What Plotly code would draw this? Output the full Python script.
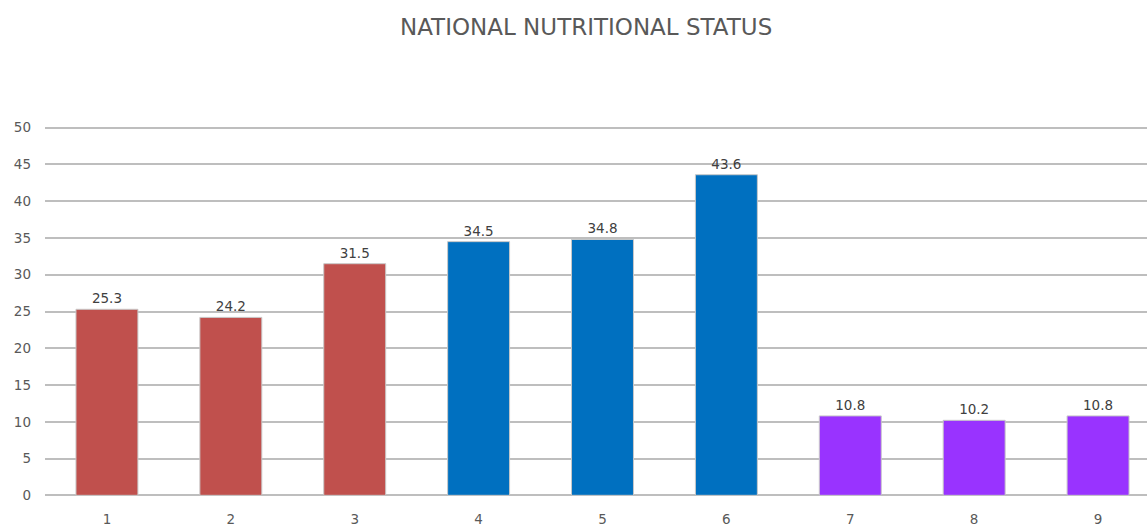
import plotly.graph_objects as go

categories = [1, 2, 3, 4, 5, 6, 7, 8, 9]
values = [25.3, 24.2, 31.5, 34.5, 34.8, 43.6, 10.8, 10.2, 10.8]
bar_colors = ["#C0504D", "#C0504D", "#C0504D",
              "#0070C0", "#0070C0", "#0070C0",
              "#9933FF", "#9933FF", "#9933FF"]
y_ticks = [0, 5, 10, 15, 20, 25, 30, 35, 40, 45, 50]
title = "NATIONAL NUTRITIONAL STATUS"

FONT = "DejaVu Sans, Verdana, sans-serif"

fig = go.Figure(go.Bar(
    x=categories,
    y=values,
    marker=dict(color=bar_colors, line=dict(color="#C8C8C8", width=1)),
    text=[f"{v:.1f}" for v in values],
    textposition="outside",
    cliponaxis=False,
    textfont=dict(family=FONT, size=13.5, color="#404040"),
))

fig.update_layout(
    width=1147, height=527,
    margin=dict(l=45, r=0, t=124, b=28),
    paper_bgcolor="white", plot_bgcolor="white",
    bargap=0.5,
    showlegend=False,
    title=dict(text=title, x=0.511, xanchor="center", y=0.949, yanchor="middle",
               font=dict(family=FONT, size=23, color="#595959")),
    font=dict(family=FONT, size=13.5, color="#595959"),
)
fig.update_xaxes(
    range=[0.5, 9.395], tickvals=categories, ticktext=[str(c) for c in categories],
    showgrid=False, zeroline=False, showline=False, ticks="",
    ticklabelstandoff=10, tickfont=dict(family=FONT, size=13.5, color="#595959"),
)
fig.update_yaxes(
    range=[-0.5, 50.5], tickvals=y_ticks, showgrid=True, gridcolor="#BEBEBE", gridwidth=1.6,
    zeroline=False, showline=False, ticks="", ticklabelstandoff=13,
    tickfont=dict(family=FONT, size=13.5, color="#595959"),
)
fig.write_html("out.html")
